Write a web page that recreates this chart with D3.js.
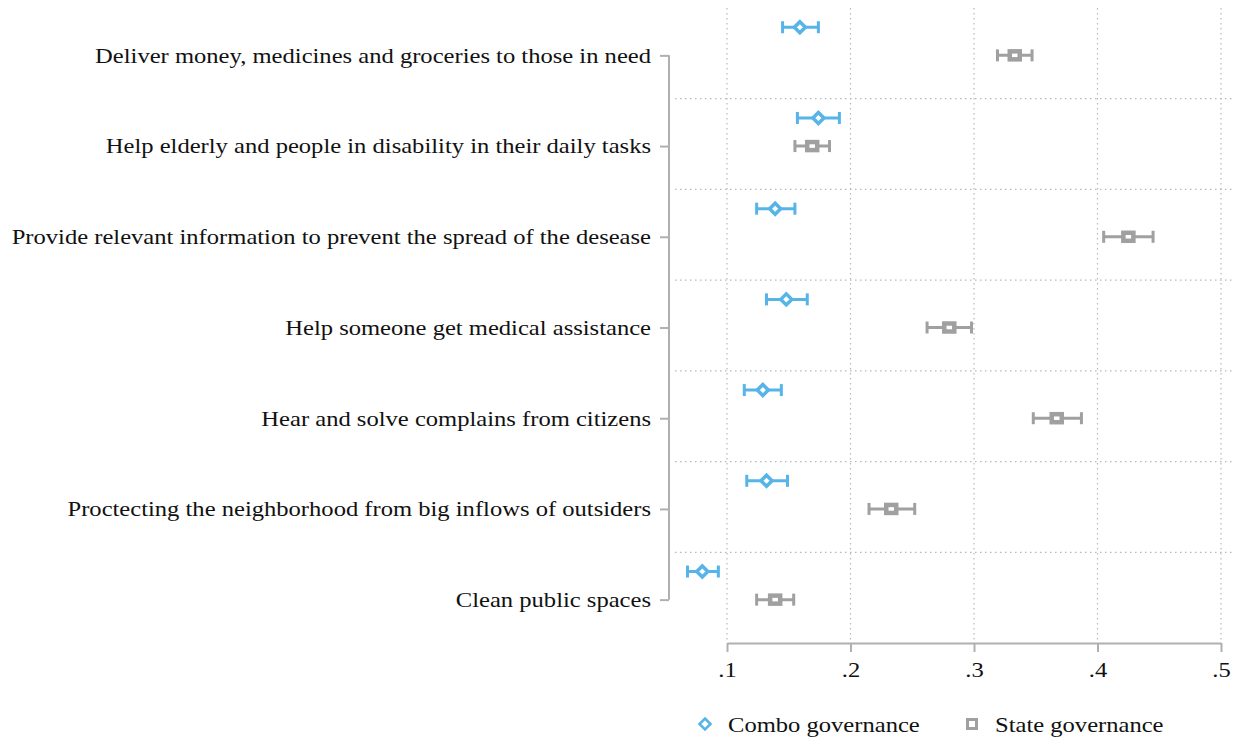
<!DOCTYPE html>
<html>
<head>
<meta charset="utf-8">
<script src="https://cdn.jsdelivr.net/npm/d3@7"></script>
<style>
  body { margin: 0; background: #fff; }
  svg { display: block; font-family: "Liberation Serif", "Times New Roman", serif; }
</style>
</head>
<body>
<div class="chart"></div>
<script>
// categories, top to bottom
var categories = [
    "Deliver money, medicines and groceries to those in need",
    "Help elderly and people in disability in their daily tasks",
    "Provide relevant information to prevent the spread of the desease",
    "Help someone get medical assistance",
    "Hear and solve complains from citizens",
    "Proctecting the neighborhood from big inflows of outsiders",
    "Clean public spaces"
];

// Combo governance: estimate, lower and upper CI
var comboEst = [0.159, 0.174, 0.139, 0.148, 0.129, 0.132, 0.080];
var comboLo  = [0.145, 0.157, 0.124, 0.132, 0.114, 0.116, 0.068];
var comboHi  = [0.174, 0.191, 0.155, 0.165, 0.144, 0.149, 0.093];

// State governance
var stateEst = [0.333, 0.169, 0.425, 0.280, 0.367, 0.233, 0.139];
var stateLo  = [0.319, 0.155, 0.405, 0.262, 0.348, 0.215, 0.124];
var stateHi  = [0.347, 0.183, 0.445, 0.298, 0.387, 0.252, 0.154];

var xTicks = [0.1, 0.2, 0.3, 0.4, 0.5];
var seriesNames = ["Combo governance", "State governance"];

var blue = "#56b4e9", grey = "#a0a0a0", axisGrey = "#b0b0b0";
var fontSize = "21.5px", stretch = 1.144; // the original type is a bit wide

var width = 1235, height = 738;
var margin = { top: 8, right: 0, bottom: 95, left: 675 };

var svg = d3.select(".chart").append("svg")
    .attr("width", width)
    .attr("height", height);

var x = d3.scaleLinear()
    .domain([0.1, 0.5])
    .range([727, 1221]);

var y = d3.scaleBand()
    .domain(categories)
    .range([margin.top, height - margin.bottom])
    .paddingInner(0)
    .paddingOuter(0);

var bw = y.bandwidth();
var center = function (c) { return y(c) + bw / 2 + 2; };

// grid lines
var grid = svg.append("g").attr("class", "grid");
grid.selectAll(".vgrid")
    .data(xTicks)
    .enter().append("line")
    .attr("x1", function (d) { return x(d); })
    .attr("x2", function (d) { return x(d); })
    .attr("y1", margin.top)
    .attr("y2", height - margin.bottom)
    .attr("stroke", "#b8b8b8")
    .attr("stroke-width", 1.2)
    .attr("stroke-dasharray", "1.5,3.5");

grid.selectAll(".hgrid")
    .data(categories.slice(1))
    .enter().append("line")
    .attr("x1", margin.left)
    .attr("x2", width)
    .attr("y1", function (d) { return y(d); })
    .attr("y2", function (d) { return y(d); })
    .attr("stroke", "#b8b8b8")
    .attr("stroke-width", 1.2)
    .attr("stroke-dasharray", "1.5,3.5");

// x axis
var xAxis = svg.append("g")
    .attr("class", "xAxis")
    .attr("transform", "translate(0," + (height - margin.bottom) + ")")
    .call(d3.axisBottom(x)
        .tickValues(xTicks)
        .tickSize(9)
        .tickPadding(10)
        .tickSizeOuter(0)
        .tickFormat(function (d) { return d3.format(".1f")(d).replace(/^0/, ""); }));
xAxis.select(".domain").attr("stroke", axisGrey).attr("stroke-width", 2);
xAxis.selectAll(".tick line").attr("stroke", axisGrey).attr("stroke-width", 2);
xAxis.selectAll("text")
    .attr("fill", "#111")
    .attr("transform", "scale(" + stretch + ",1)")
    .style("font-family", "Liberation Serif")
    .style("font-size", fontSize);

// y axis
var yPoint = d3.scaleOrdinal()
    .domain(categories)
    .range(categories.map(center));
var yAxis = svg.append("g")
    .attr("class", "yAxis")
    .attr("transform", "translate(669,0)")
    .call(d3.axisLeft(yPoint)
        .tickSize(9)
        .tickPadding(9));
yAxis.select(".domain").remove();
yAxis.append("line")
    .attr("x1", 0).attr("x2", 0)
    .attr("y1", center(categories[0]))
    .attr("y2", center(categories[categories.length - 1]))
    .attr("stroke", axisGrey)
    .attr("stroke-width", 2);
yAxis.selectAll(".tick line").attr("stroke", axisGrey).attr("stroke-width", 2);
yAxis.selectAll("text")
    .attr("fill", "#111")
    .attr("x", 0)
    .attr("transform", "translate(-18,0) scale(" + stretch + ",1)")
    .style("font-family", "Liberation Serif")
    .style("font-size", fontSize);

// build rows for drawing
var rows = categories.map(function (c, i) {
    return [
        { cat: c, s: 0, est: comboEst[i], lo: comboLo[i], hi: comboHi[i], yy: center(c) - 0.31 * bw },
        { cat: c, s: 1, est: stateEst[i], lo: stateLo[i], hi: stateHi[i], yy: center(c) }
    ];
}).flat();

var colorOf = function (d) { return d.s === 0 ? blue : grey; };

var marks = svg.append("g").attr("class", "marks");

// CI bars
marks.selectAll(".ci")
    .data(rows)
    .enter().append("line")
    .attr("x1", function (d) { return x(d.lo); })
    .attr("x2", function (d) { return x(d.hi); })
    .attr("y1", function (d) { return d.yy; })
    .attr("y2", function (d) { return d.yy; })
    .attr("stroke", colorOf)
    .attr("stroke-width", 3);

// caps
["lo", "hi"].forEach(function (k) {
    marks.selectAll(".cap-" + k)
        .data(rows)
        .enter().append("line")
        .attr("x1", function (d) { return x(d[k]); })
        .attr("x2", function (d) { return x(d[k]); })
        .attr("y1", function (d) { return d.yy - 6; })
        .attr("y2", function (d) { return d.yy + 6; })
        .attr("stroke", colorOf)
        .attr("stroke-width", 3);
});

// markers
var diamond = function (cx, cy, r) {
    return "M" + cx + "," + (cy - r) + "L" + (cx + r) + "," + cy +
        "L" + cx + "," + (cy + r) + "L" + (cx - r) + "," + cy + "Z";
};
marks.selectAll(".combo")
    .data(rows.filter(function (d) { return d.s === 0; }))
    .enter().append("path")
    .attr("d", function (d) { return diamond(x(d.est), d.yy, 5.5); })
    .attr("fill", "#fff")
    .attr("stroke", blue)
    .attr("stroke-width", 3.5);

marks.selectAll(".state")
    .data(rows.filter(function (d) { return d.s === 1; }))
    .enter().append("rect")
    .attr("x", function (d) { return x(d.est) - 5; })
    .attr("y", function (d) { return d.yy - 4; })
    .attr("width", 10)
    .attr("height", 8)
    .attr("fill", "#fff")
    .attr("stroke", grey)
    .attr("stroke-width", 4.5);

// legend
var legend = svg.append("g").attr("class", "legend");
var legX = [705, 972];
legend.selectAll(".lg")
    .data(seriesNames)
    .enter().append("g")
    .attr("transform", function (d, i) { return "translate(" + legX[i] + ",724)"; })
    .each(function (d, i) {
        var g = d3.select(this);
        if (i === 0) {
            g.append("path").attr("d", diamond(0, 0, 5.5))
                .attr("fill", "#fff").attr("stroke", blue).attr("stroke-width", 2.5);
        } else {
            g.append("rect").attr("x", -4.5).attr("y", -4.5).attr("width", 9).attr("height", 9)
                .attr("fill", "#fff").attr("stroke", grey).attr("stroke-width", 3);
        }
        g.append("text")
            .attr("x", 0)
            .attr("dy", "0.35em")
            .attr("transform", "translate(23,0) scale(" + stretch + ",1)")
            .attr("fill", "#111")
            .style("font-size", fontSize)
            .text(d);
    });
</script>
</body>
</html>
